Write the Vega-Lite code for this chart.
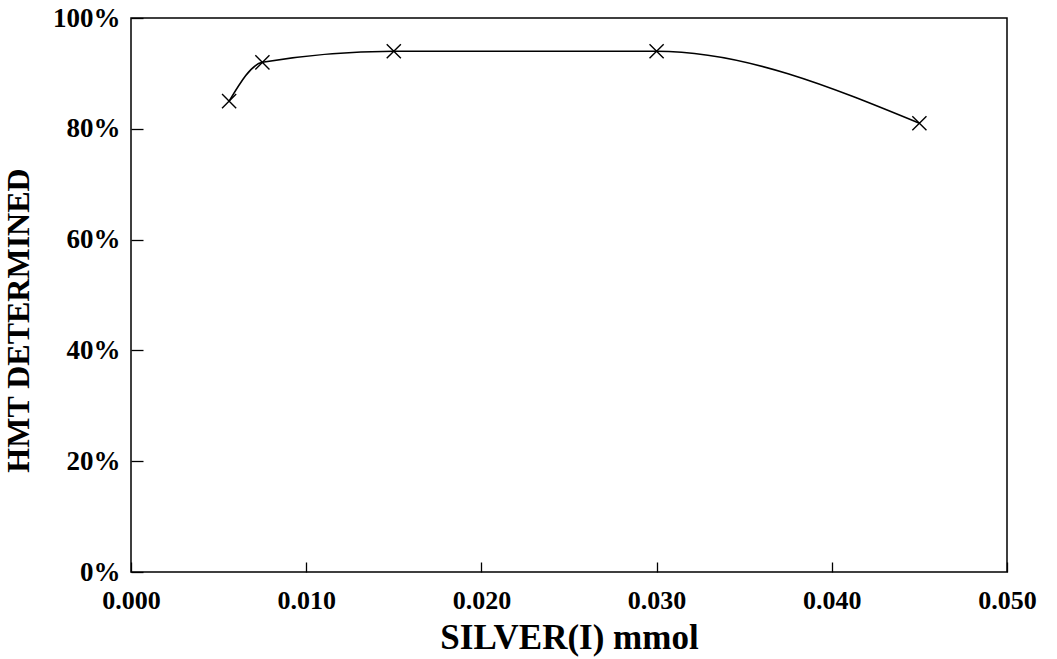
{
  "$schema": "https://vega.github.io/schema/vega-lite/v6.json",
  "autosize": "none",
  "padding": {"left": 131, "top": 18, "right": 50, "bottom": 87},
  "width": 876,
  "height": 554,
  "background": "white",
  "config": {
    "view": {"stroke": "black", "strokeWidth": 1.5},
    "font": "Liberation Serif",
    "axis": {
      "grid": false,
      "domain": false,
      "tickColor": "black",
      "tickWidth": 1.3,
      "labelColor": "black",
      "titleColor": "black",
      "labelFont": "Liberation Serif",
      "titleFont": "Liberation Serif",
      "labelFontWeight": "bold",
      "titleFontWeight": "bold"
    }
  },
  "data": {
    "values": [
      {"silver": 0.0056, "hmt": 0.85},
      {"silver": 0.0075, "hmt": 0.92},
      {"silver": 0.015, "hmt": 0.94},
      {"silver": 0.030, "hmt": 0.94},
      {"silver": 0.045, "hmt": 0.81}
    ]
  },
  "encoding": {
    "x": {
      "field": "silver",
      "type": "quantitative",
      "scale": {"domain": [0, 0.05], "nice": false, "zero": false},
      "axis": {
        "title": "SILVER(I) mmol",
        "values": [0, 0.01, 0.02, 0.03, 0.04, 0.05],
        "format": ".3f",
        "tickSize": -10,
        "labelPadding": 25,
        "labelFontSize": 26,
        "titleFontSize": 35,
        "titleY": 76,
        "titleBaseline": "alphabetic",
        "labelFlush": false
      }
    },
    "y": {
      "field": "hmt",
      "type": "quantitative",
      "scale": {"domain": [0, 1], "nice": false},
      "axis": {
        "title": "HMT DETERMINED",
        "values": [0, 0.2, 0.4, 0.6, 0.8, 1.0],
        "format": ".0%",
        "tickSize": -12,
        "labelPadding": 23,
        "labelFontSize": 27,
        "titleFontSize": 32,
        "titleAngle": -90,
        "titleX": -113,
        "titleY": 302,
        "titleAlign": "center",
        "titleBaseline": "middle"
      }
    }
  },
  "layer": [
    {
      "mark": {"type": "line", "interpolate": "monotone", "color": "black", "strokeWidth": 1.6}
    },
    {
      "mark": {
        "type": "point",
        "shape": "M-1,-1L1,1M-1,1L1,-1",
        "size": 200,
        "filled": false,
        "color": "black",
        "strokeWidth": 1.4,
        "opacity": 1
      }
    }
  ]
}
